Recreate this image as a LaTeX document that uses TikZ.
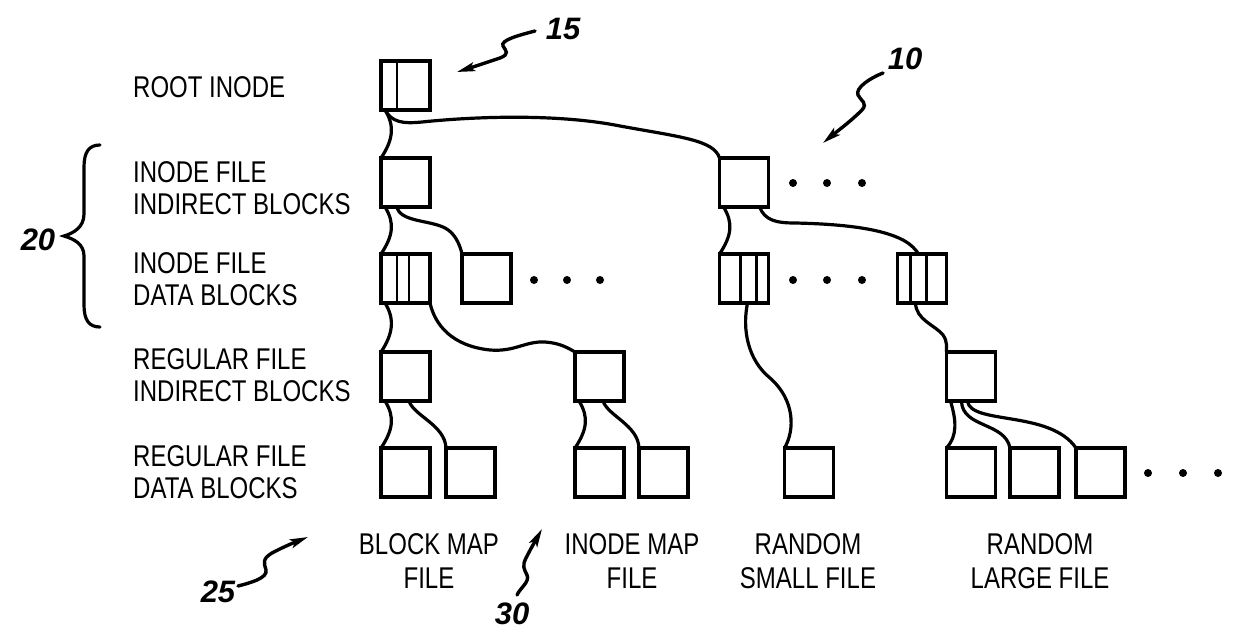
\documentclass[tikz,border=0pt]{standalone}
\usepackage{fontspec}
\setmainfont{Liberation Sans}[FakeStretch=0.8]
\newfontfamily\numfont{Liberation Sans}
\usetikzlibrary{calc,arrows.meta}
\begin{document}
\begin{tikzpicture}[x=1pt,y=-1pt,
  blk/.style={draw, line width=3.2pt, minimum width=49pt, minimum height=49pt, inner sep=0pt, outer sep=0pt},
  divl/.style={line width=2.8pt},
  link/.style={line width=3.2pt, line cap=round},
  lbl/.style={font=\fontsize{30}{32}\selectfont, align=left, anchor=west, inner sep=0pt},
  bot/.style={font=\fontsize{30}{34}\selectfont, align=center, inner sep=0pt},
  num/.style={font=\numfont\bfseries\itshape\fontsize{31}{31}\selectfont, inner sep=0pt},
  sq/.style={line width=3.4pt, line cap=round, -{Stealth[length=18pt,width=9pt,inset=4pt]}},
  dotf/.style={fill=black}
]
\useasboundingbox (0,0) rectangle (1236,639);

% boxes
\node[blk] (root) at (405.5,85.5) {};
\node[blk] (ia) at (405.5,182.5) {};
\node[blk] (ib) at (744,182.5) {};
\node[blk] (da) at (405.5,278.5) {};
\node[blk] (db) at (486.5,278.5) {};
\node[blk] (dc) at (744,278.5) {};
\node[blk] (dd) at (922,278.5) {};
\node[blk] (ra) at (405.5,376.5) {};
\node[blk] (rb) at (599.5,376.5) {};
\node[blk] (rc) at (971,376.5) {};
\node[blk] (ba) at (405.5,472.5) {};
\node[blk] (bb) at (470.5,472.5) {};
\node[blk] (bc) at (599.5,472.5) {};
\node[blk] (bd) at (663.5,472.5) {};
\node[blk] (be) at (809,472.5) {};
\node[blk] (bf) at (971,472.5) {};
\node[blk] (bg) at (1034.5,472.5) {};
\node[blk] (bh) at (1100.5,472.5) {};

% dividers
\draw[divl] ([xshift=16pt]root.north west) -- ([xshift=16pt]root.south west);
\draw[divl] ([xshift=16pt]da.north west) -- ([xshift=16pt]da.south west);
\draw[divl] ([xshift=28pt]da.north west) -- ([xshift=28pt]da.south west);
\draw[divl] ([xshift=21pt]dc.north west) -- ([xshift=21pt]dc.south west);
\draw[divl] ([xshift=37pt]dc.north west) -- ([xshift=37pt]dc.south west);
\draw[divl] ([xshift=13pt]dd.north west) -- ([xshift=13pt]dd.south west);
\draw[divl] ([xshift=29pt]dd.north west) -- ([xshift=29pt]dd.south west);

% vertical S links
\foreach \a/\b in {root/ia, ia/da, ib/dc, da/ra, ra/ba, rb/bc}{
  \draw[link] ($(\a.south west)+(4,0)$) .. controls ($(\a.south west)+(14,16)$) and ($(\b.north west)+(12,-18)$) .. (\b.north west);
}
% root -> ib
\draw[link] ($(root.south west)+(4,0)$) .. controls (392,122) and (402,124) .. (422,122)
  .. controls (480,116) and (560,114) .. (620,126)
  .. controls (680,137) and (714,140) .. (ib.north west);
% ia -> db
\draw[link] ($(ia.south west)+(16,0)$) .. controls (400,222) and (430,220) .. (445,228)
  .. controls (455,233) and (460,245) .. (db.north west);
% ib -> dd
\draw[link] ($(ib.south west)+(40,0)$) .. controls (765,220) and (775,223) .. (795,223)
  .. controls (840,224) and (880,228) .. (903,240)
  .. controls (912,245) and (916,250) .. ($(dd.north west)+(21,0)$);
% da -> rb
\draw[link] (da.south east) .. controls (435,325) and (452,346) .. (490,350)
  .. controls (515,352) and (525,341) .. (545,342)
  .. controls (560,343) and (568,348) .. (rb.north west);
% dc -> be
\draw[link] ($(dc.south west)+(28,0)$) .. controls (742,330) and (748,360) .. (770,378)
  .. controls (795,400) and (795,430) .. (be.north west);
% dd -> rc
\draw[link] ($(dd.south west)+(18,0)$) .. controls (916,320) and (935,325) .. (943,335)
  .. controls (948,342) and (946,348) .. (rc.north west);
% ra -> bb, rb -> bd
\draw[link] ($(ra.south west)+(28,0)$) .. controls (414,416) and (445,425) .. (bb.north west);
\draw[link] ($(rb.south west)+(28,0)$) .. controls (608,416) and (638,425) .. (bd.north west);
% rc -> bf, bg, bh
\draw[link] ($(rc.south west)+(4,0)$) .. controls (956,420) and (958,435) .. (bf.north west);
\draw[link] ($(rc.south west)+(15,0)$) .. controls (962,428) and (1005,422) .. (bg.north west);
\draw[link] ($(rc.south west)+(21,0)$) .. controls (970,425) and (1050,410) .. (bh.north west);

% dots
\foreach \x in {793,827,862}{\fill[dotf] (\x,183) circle (4);}
\foreach \x in {534,567,600}{\fill[dotf] (\x,280) circle (4);}
\foreach \x in {793,827,862}{\fill[dotf] (\x,280) circle (4);}
\foreach \x in {1148,1183,1218}{\fill[dotf] (\x,473) circle (4);}

% left labels
\node[lbl] (lroot) at (133,87) {ROOT INODE};
\node[lbl] (l1) at (133,188) {INODE FILE\\INDIRECT BLOCKS};
\node[lbl] (l2) at (133,279) {INODE FILE\\DATA BLOCKS};
\node[lbl] (l3) at (133,375) {REGULAR FILE\\INDIRECT BLOCKS};
\node[lbl] (l4) at (133,472) {REGULAR FILE\\DATA BLOCKS};

% bottom labels
\node[bot] (t1) at (429,561) {BLOCK MAP\\FILE};
\node[bot] (t2) at (632,561) {INODE MAP\\FILE};
\node[bot] (t3) at (808,561) {RANDOM\\SMALL FILE};
\node[bot] (t4) at (1040,561) {RANDOM\\LARGE FILE};

% brace
\draw[link] (100,145) .. controls (89,145) and (84,152) .. (84,167) -- (84,214)
  .. controls (84,227) and (74,233) .. (64,236)
  .. controls (74,239) and (84,244) .. (84,256) -- (84,305)
  .. controls (84,320) and (89,327) .. (100,327);

% reference numbers
\node[num] (n20) at (38,240) {20};
\node[num] (n15) at (563,29) {15};
\node[num] (n10) at (905,59) {10};
\node[num] (n25) at (218,592) {25};
\node[num] (n30) at (512,614) {30};

\coordinate (s15) at (535,31); \coordinate (e15) at (457,72);
\coordinate (s10) at (883,73); \coordinate (e10) at (823,143);
\coordinate (s25) at (238,586); \coordinate (e25) at (308,537);
\coordinate (s30) at (517,595); \coordinate (e30) at (542,529);

\draw[sq] (s15) .. controls (520,35) and (500,40) .. (503,46)
  .. controls (506,51) and (510,54) .. (500,58)
  .. controls (485,63) and (470,68) .. (e15);
\draw[sq] (s10) .. controls (870,78) and (855,88) .. (858,95)
  .. controls (861,101) and (868,103) .. (862,110)
  .. controls (850,122) and (835,133) .. (e10);
\draw[sq] (s25) .. controls (250,583) and (268,578) .. (266,570)
  .. controls (264,563) and (262,559) .. (272,553)
  .. controls (285,546) and (298,541) .. (e25);
\draw[sq] (s30) .. controls (520,588) and (530,582) .. (527,575)
  .. controls (524,569) and (522,566) .. (526,558)
  .. controls (531,548) and (537,538) .. (e30);
\end{tikzpicture}
\end{document}
